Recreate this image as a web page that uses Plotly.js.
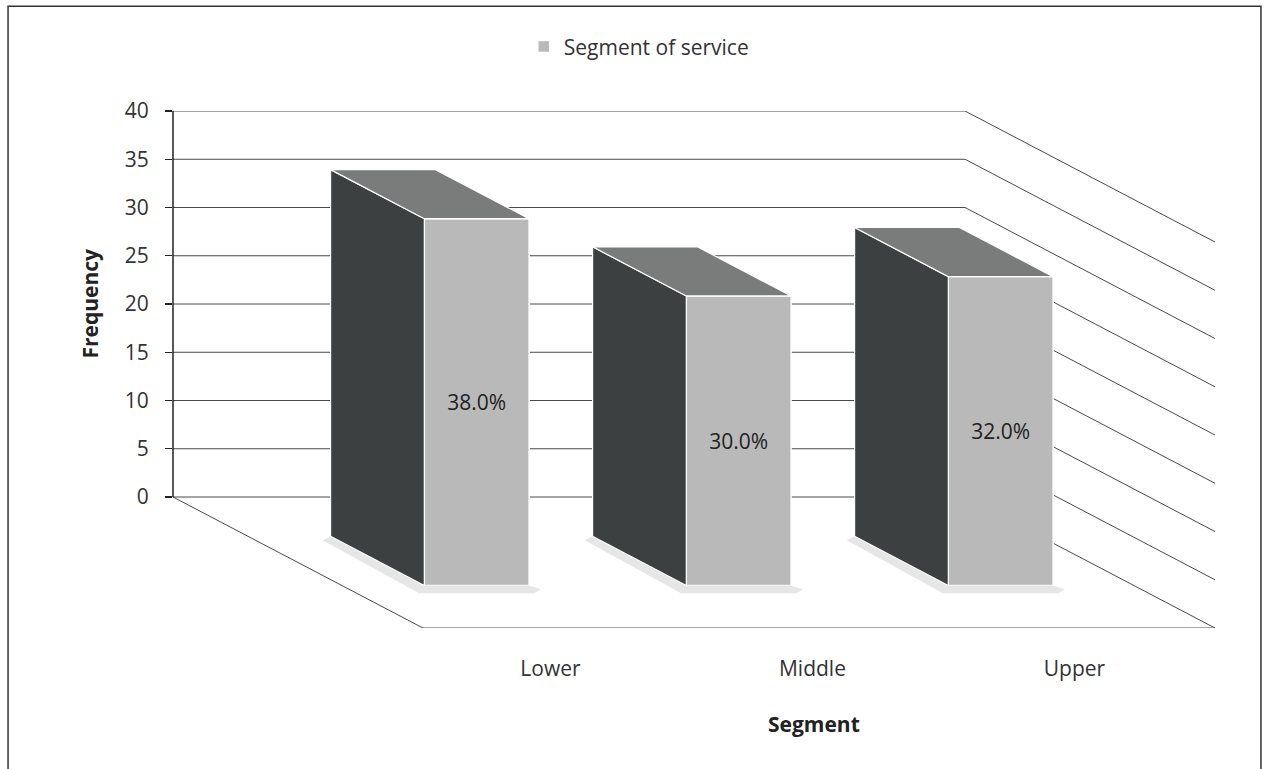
<!DOCTYPE html>
<html>
<head>
<meta charset="utf-8">
<script src="https://cdn.plot.ly/plotly-3.0.1.min.js"></script>
<style>
  html, body { margin: 0; padding: 0; background: #ffffff; }
  #chart { width: 1267px; height: 769px; }
</style>
</head>
<body>
<div id="chart"></div>
<script>
// ---- data ----
const categories = ["Lower", "Middle", "Upper"];
const frequency = [38, 30, 32];
const yTicks = [0, 5, 10, 15, 20, 25, 30, 35, 40];
const seriesName = "Segment of service";
const xTitle = "Segment";
const yTitle = "Frequency";

// ---- oblique 3D geometry (style only) ----
const DX = 0.954;     // depth shift in x units (back wall -> front floor edge)
const DY = 13.575;    // depth shift in y units
const D0 = 0.30, D1 = 0.675;   // bar depth span
const HW = 0.2;       // half width of a bar
const XMIN = -0.5153, XMAX = 3.4618, YMIN = -13.575, YMAX = 40;
const WALL_R = 2.5076;   // right edge of back wall
const FONT = "Open Sans, Liberation Sans, sans-serif";
const FS = 21;

function P(c, v, d) { return [c + d * DX, v - d * DY]; }

const traces = [];
// front faces: real bar trace
traces.push({
  type: "bar",
  name: seriesName,
  x: categories.map((_, i) => i + D1 * DX),
  y: frequency,
  base: categories.map(() => -D1 * DY),
  width: categories.map(() => 2 * HW),
  marker: { color: "#b9b9b9", line: { color: "#ffffff", width: 1.5 } },
  text: frequency.map(v => v.toFixed(1) + "%"),
  textposition: "inside",
  insidetextanchor: "middle",
  textangle: 0,
  insidetextfont: { family: FONT, size: FS, color: "#222222" },
  showlegend: true,
  hoverinfo: "skip"
});

function poly(pts, color, lineColor) {
  return {
    type: "scatter", mode: "lines",
    x: pts.map(p => p[0]).concat([pts[0][0]]),
    y: pts.map(p => p[1]).concat([pts[0][1]]),
    fill: "toself", fillcolor: color,
    line: { color: lineColor, width: lineColor === "rgba(0,0,0,0)" ? 0 : 1.2 },
    showlegend: false, hoverinfo: "skip"
  };
}

frequency.forEach((v, i) => {
  const cL = i - HW, cR = i + HW;
  // soft shadow on the floor
  const a = P(cL, 0, D0), b = P(cL, 0, D1), c = P(cR, 0, D1);
  traces.push(poly([
    [a[0] - 0.03, a[1] - 0.4], a, b, c,
    [c[0] + 0.045, c[1] - 0.4], [c[0] + 0.02, c[1] - 0.8], [b[0] - 0.02, b[1] - 0.8]
  ], "rgba(140,140,140,0.22)", "rgba(0,0,0,0)"));
  // left side face
  traces.push(poly([P(cL, 0, D0), P(cL, 0, D1), P(cL, v, D1), P(cL, v, D0)], "#3d4040", "#ffffff"));
  // top face
  traces.push(poly([P(cL, v, D0), P(cR, v, D0), P(cR, v, D1), P(cL, v, D1)], "#7a7c7c", "#ffffff"));
});

// ---- walls / gridlines as shapes below traces ----
const shapes = [];
const gridColor = "#4a4a4a";
yTicks.forEach(t => {
  const b = P(WALL_R, t, 1);
  shapes.push({ type: "path", xref: "x", yref: "y", layer: "below",
    path: `M ${XMIN} ${t} L ${WALL_R} ${t} L ${b[0]} ${b[1]}`,
    line: { color: gridColor, width: 1 } });
});
const fl = P(XMIN, 0, 1), fr = P(WALL_R, 0, 1);
shapes.push({ type: "path", xref: "x", yref: "y", layer: "below",
  path: `M ${XMIN} 0 L ${fl[0]} ${fl[1]} L ${fr[0]} ${fr[1]}`,
  line: { color: gridColor, width: 1 } });
// vertical value axis line (back wall left edge)
shapes.push({ type: "line", xref: "paper", yref: "y", x0: 0, x1: 0, y0: 0, y1: 40,
  line: { color: "#222222", width: 1.5 } });
// outer chart border
shapes.push({ type: "rect", xref: "paper", yref: "paper",
  x0: -0.1583, x1: 1.0441, y0: -0.29, y1: 1.2026,
  line: { color: "#333333", width: 1.5 }, fillcolor: "rgba(0,0,0,0)" });

const layout = {
  width: 1267, height: 769,
  margin: { l: 173, r: 52, t: 111, b: 141 },
  paper_bgcolor: "#ffffff", plot_bgcolor: "rgba(0,0,0,0)",
  font: { family: FONT, size: FS, color: "#333333" },
  showlegend: true,
  legend: { orientation: "h", x: 0.447, y: 1.124, xanchor: "center", yanchor: "middle",
    font: { family: FONT, size: FS, color: "#333333" }, bgcolor: "rgba(0,0,0,0)" },
  xaxis: {
    range: [XMIN, XMAX], showgrid: false, zeroline: false, showline: false,
    tickmode: "array",
    tickvals: categories.map((_, i) => i + 0.97 * DX),
    ticktext: categories, ticks: "", ticklabelstandoff: 26,
    tickfont: { family: FONT, size: FS, color: "#333333" }, fixedrange: true
  },
  yaxis: {
    range: [YMIN, YMAX], showgrid: false, zeroline: false, showline: false,
    tickmode: "array", tickvals: yTicks, ticktext: yTicks.map(String),
    ticks: "outside", ticklen: 7, tickcolor: "#222222", tickwidth: 1.2,
    ticklabelstandoff: 12,
    tickfont: { family: FONT, size: FS, color: "#333333" }, fixedrange: true
  },
  bargap: 0,
  shapes: shapes,
  annotations: [
    { text: "<b>" + xTitle + "</b>", xref: "paper", yref: "paper",
      x: 0.615, y: -0.186, showarrow: false, xanchor: "center", yanchor: "middle",
      font: { family: FONT, size: FS, color: "#222222" } },
    { text: "<b>" + yTitle + "</b>", xref: "paper", yref: "paper",
      x: -0.08, y: 0.627, showarrow: false, textangle: -90, xanchor: "center", yanchor: "middle",
      font: { family: FONT, size: FS, color: "#222222" } }
  ]
};

Plotly.newPlot("chart", traces, layout, { displayModeBar: false, staticPlot: true });
</script>
</body>
</html>
